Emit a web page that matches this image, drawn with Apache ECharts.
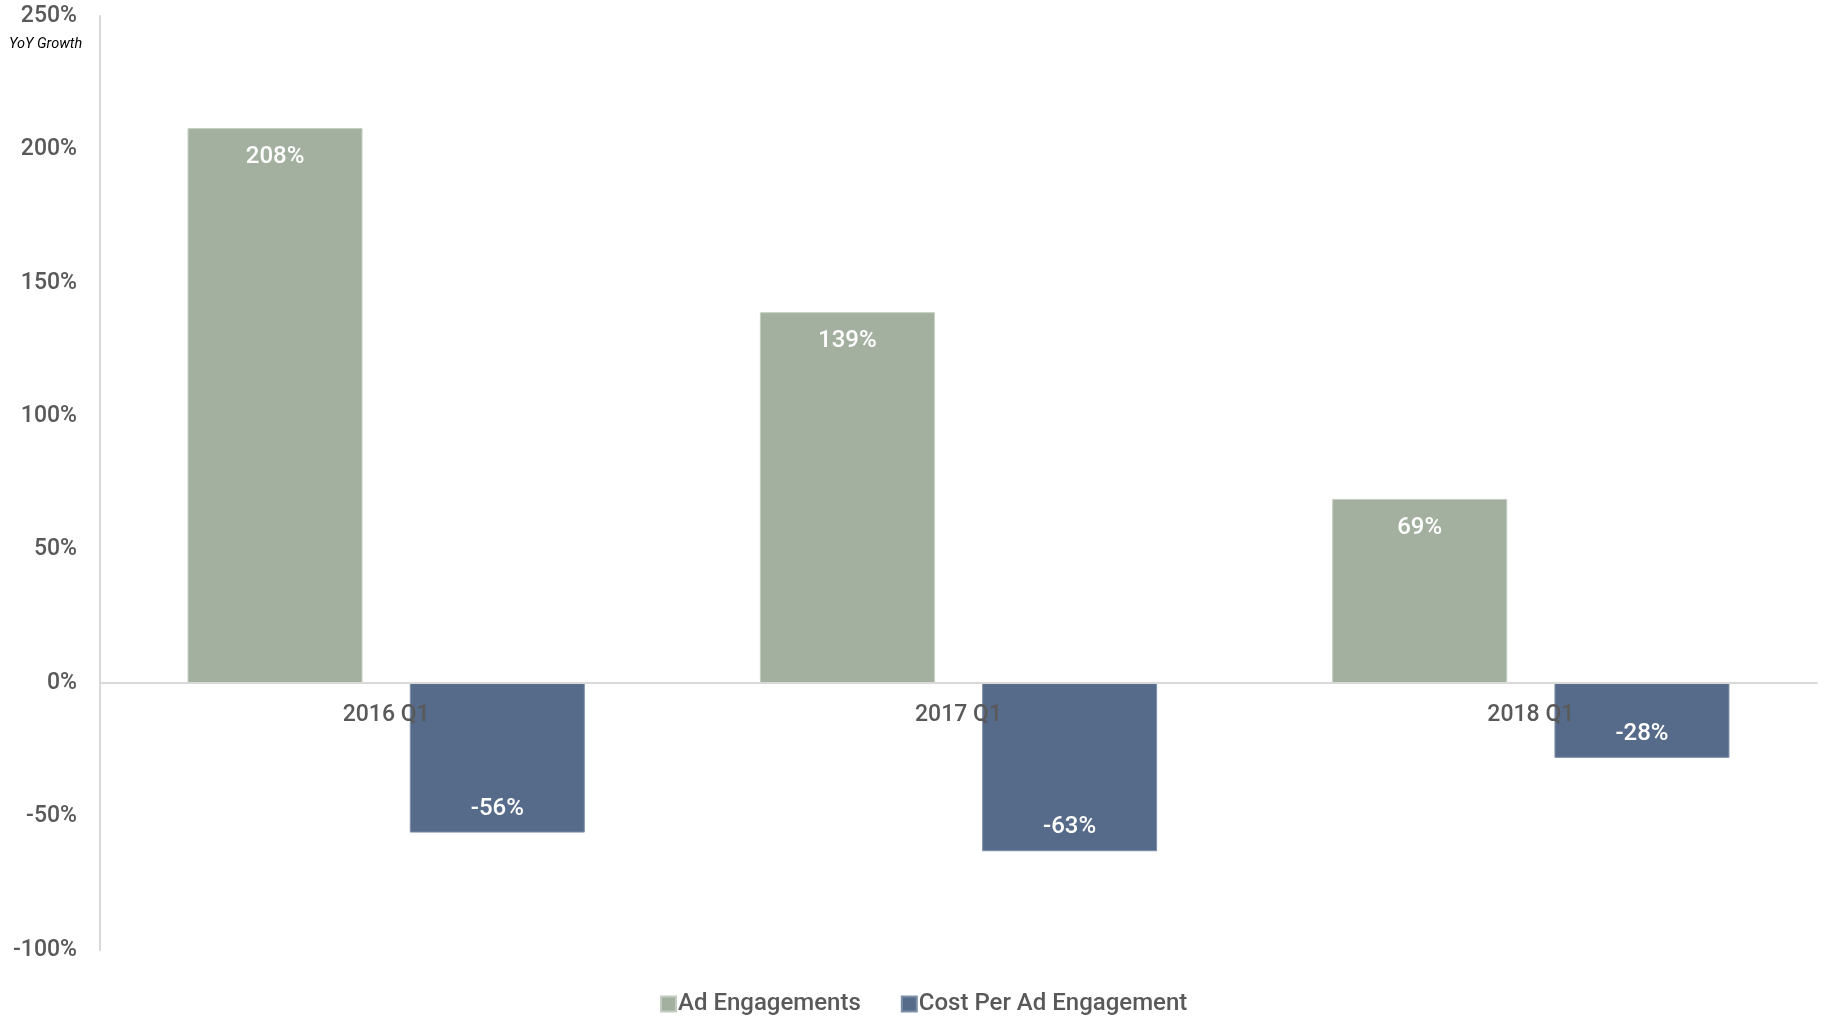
<!DOCTYPE html>
<html>
<head>
<meta charset="utf-8">
<script src="https://cdn.jsdelivr.net/npm/echarts@6/dist/echarts.min.js"></script>
<style>
  html, body { margin: 0; padding: 0; background: #fff; }
  #chart { width: 1826px; height: 1016px; }
</style>
</head>
<body>
<div id="chart"></div>
<script>
// Year-over-year growth by first quarter
const categories = ['2016 Q1', '2017 Q1', '2018 Q1'];
const adEngagements = [208, 139, 69];
const costPerAdEngagement = [-56, -63, -28];
const yTicks = { min: -100, max: 250, interval: 50 };

const FONT = 'Roboto';
const TEXT_GRAY = '#595959';
const GREEN = '#A3B09F';
const BLUE = '#566A89';

const GRID = { left: 100, right: 9, top: 16, bottom: 66 };
const chartHeight = 1016;
// place the category axis on the zero line of the value axis
const plotHeight = chartHeight - GRID.top - GRID.bottom;
const zeroOffset = plotHeight * (0 - yTicks.min) / (yTicks.max - yTicks.min);

const chart = echarts.init(document.getElementById('chart'), null, { renderer: 'canvas' });

chart.setOption({
  animation: false,
  textStyle: { fontFamily: FONT },
  grid: Object.assign({ containLabel: false }, GRID),
  legend: {
    data: ['Ad Engagements', 'Cost Per Ad Engagement'],
    left: 655,
    top: 987,
    itemWidth: 15,
    itemHeight: 15,
    itemGap: 40,
    icon: 'rect',
    textStyle: { fontFamily: FONT, fontSize: 24, fontWeight: 500, color: TEXT_GRAY, padding: [0, 0, 0, -3] }
  },
  xAxis: {
    type: 'category',
    data: categories,
    offset: -zeroOffset,
    z: 10,
    axisLine: { onZero: false, lineStyle: { color: '#D9D9D9', width: 2 } },
    axisTick: { show: false },
    axisLabel: { fontFamily: FONT, fontSize: 23, fontWeight: 500, color: TEXT_GRAY, margin: 21 },
    splitLine: { show: false }
  },
  yAxis: {
    type: 'value',
    min: yTicks.min,
    max: yTicks.max,
    interval: yTicks.interval,
    axisLine: { show: true, lineStyle: { color: '#D9D9D9', width: 2 } },
    axisTick: { show: false },
    splitLine: { show: false },
    axisLabel: {
      fontFamily: FONT, fontSize: 23, fontWeight: 500, color: TEXT_GRAY, margin: 23,
      padding: [5, 0, 0, 0],
      formatter: v => v + '%'
    }
  },
  graphic: [{
    type: 'text',
    left: 9,
    top: 37,
    style: { text: 'YoY Growth', fontFamily: FONT, fontStyle: 'italic', fontSize: 14.5, fill: '#000' }
  }],
  series: [
    {
      name: 'Ad Engagements',
      type: 'bar',
      data: adEngagements,
      barWidth: 175,
      barGap: '27%',
      itemStyle: { color: GREEN, borderColor: '#C3CCC0', borderWidth: 1 },
      label: {
        show: true, position: 'insideTop', distance: 17,
        fontFamily: FONT, fontSize: 24, fontWeight: 500, color: '#fff',
        formatter: p => p.value + '%'
      }
    },
    {
      name: 'Cost Per Ad Engagement',
      type: 'bar',
      data: costPerAdEngagement,
      barWidth: 175,
      itemStyle: { color: BLUE, borderColor: '#7E8FA8', borderWidth: 1 },
      label: {
        show: true, position: 'insideBottom', distance: 12,
        fontFamily: FONT, fontSize: 24, fontWeight: 500, color: '#fff',
        formatter: p => p.value + '%'
      }
    }
  ]
});
</script>
</body>
</html>
